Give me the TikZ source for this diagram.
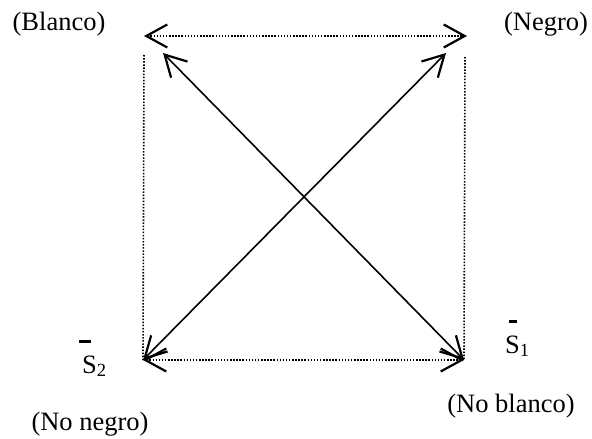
\documentclass[tikz,border=0pt]{standalone}
\usepackage{fontspec}
\setmainfont{Liberation Serif}
\usetikzlibrary{arrows.meta}
\newcommand\barS[3]{\makebox[0pt][l]{\hspace{#2}\raisebox{1.15em}{\rule{#3}{0.11em}}}S\textsubscript{#1}}
\begin{document}
\begin{tikzpicture}[x=1pt,y=-1pt,
  lbl/.style={inner sep=0pt,font=\fontsize{26.5}{30}\selectfont},
  vtip/.style={{Straight Barb[length=21pt,width=23pt,line width=2.2pt]}-{Straight Barb[length=21pt,width=23pt,line width=2.2pt]}},
  dotline/.style={line width=1.6pt,dash pattern=on 1.5pt off 1.6pt},
  solidline/.style={line width=1.6pt}]
\useasboundingbox (0,0) rectangle (592,439);
% corner points
\coordinate (TL) at (144,36);
\coordinate (TR) at (467,36);
\coordinate (BL) at (143,360);
\coordinate (BR) at (464,360);
\coordinate (D1) at (163,53);
\coordinate (D2) at (446,53);
\coordinate (VL) at (144,55);
\coordinate (VR) at (465,57);
% connectors
\draw[dotline,vtip] (TL) -- (TR);
\draw[dotline,vtip] (BL) -- (BR);
\draw[dotline] (VL) -- (BL);
\draw[dotline] (VR) -- (BR);
\draw[solidline,vtip] (D1) -- (BR);
\draw[solidline,vtip] (BL) -- (D2);
% labels
\node[lbl] (blanco) at (59,24) {(Blanco)};
\node[lbl] (negro) at (546,24) {(Negro)};
\node[lbl] (noblanco) at (511,406) {(No blanco)};
\node[lbl] (nonegro) at (90,424) {(No negro)};
\node[lbl,anchor=base west] (s1) at (505,353) {\barS{1}{0.15em}{0.28em}};
\node[lbl,anchor=base west] (s2) at (82,373) {\barS{2}{-0.12em}{0.45em}};
\end{tikzpicture}
\end{document}
